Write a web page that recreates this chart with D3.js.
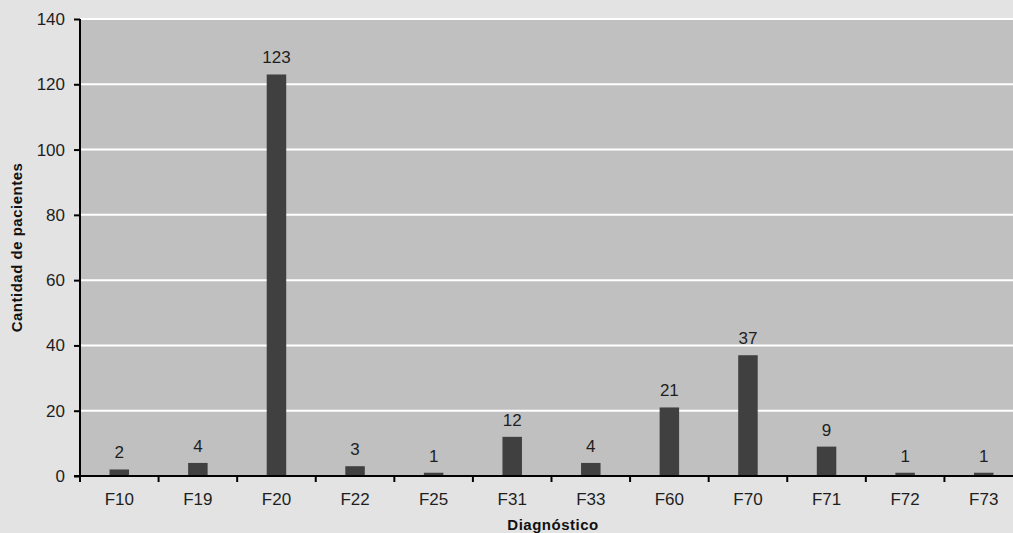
<!DOCTYPE html>
<html><head><meta charset="utf-8">
<script src="https://cdn.jsdelivr.net/npm/d3@7"></script>
<style>html,body{margin:0;padding:0;background:#e3e3e3;overflow:hidden}</style>
</head><body>
<svg id="c" width="1013" height="533"></svg>
<script>
const categories = ["F10","F19","F20","F22","F25","F31","F33","F60","F70","F71","F72","F73"];
const values = [2,4,123,3,1,12,4,21,37,9,1,1];
const yTicks = [0,20,40,60,80,100,120,140];
const yTitle = "Cantidad de pacientes";
const xTitle = "Diagnóstico";

(function () {
const svg = d3.select("#c");
const W = 1013, H = 533;
const pLeft = 80, pRight = 1023, pTop = 19, pBottom = 476;
const font = "'Liberation Sans', Arial, sans-serif";
const fs = 17;

svg.append("rect").attr("width", W).attr("height", H).attr("fill", "#e3e3e3");

const x = d3.scaleBand().domain(categories).range([pLeft, pRight]).paddingInner(0).paddingOuter(0);
const y = d3.scaleLinear().domain([0, 140]).range([pBottom, pTop]);

svg.append("rect").attr("x", pLeft).attr("y", pTop).attr("width", pRight - pLeft).attr("height", pBottom - pTop).attr("fill", "#c0c0c0");

svg.append("g").selectAll("line").data(yTicks.filter(d => d > 0)).join("line")
  .attr("x1", pLeft).attr("x2", pRight)
  .attr("y1", d => y(d)).attr("y2", d => y(d))
  .attr("stroke", "#ffffff").attr("stroke-width", 2);

const bw = 19.5;
svg.append("g").selectAll("rect").data(values).join("rect")
  .attr("x", (d, i) => x(categories[i]) + x.bandwidth() / 2 - bw / 2)
  .attr("y", d => y(d))
  .attr("width", bw)
  .attr("height", d => y(0) - y(d))
  .attr("fill", "#404040");

svg.append("g").selectAll("text").data(values).join("text")
  .attr("x", (d, i) => x(categories[i]) + x.bandwidth() / 2)
  .attr("y", d => y(d) - 11)
  .attr("text-anchor", "middle")
  .attr("font-family", font).attr("font-size", fs).attr("fill", "#1e1e1e")
  .text(d => d);

const yAxis = svg.append("g").attr("transform", `translate(${pLeft},0)`)
  .call(d3.axisLeft(y).tickValues(yTicks).tickSize(6).tickPadding(9));
yAxis.select(".domain").attr("stroke", "#000").attr("stroke-width", 2).attr("d", `M0,${pTop}V${pBottom}`);
yAxis.selectAll(".tick line").attr("stroke", "#000").attr("stroke-width", 2);
yAxis.selectAll(".tick text").attr("font-family", font).attr("font-size", fs).attr("fill", "#1e1e1e");

const xAxis = svg.append("g").attr("transform", `translate(0,${pBottom})`)
  .call(d3.axisBottom(x).tickSize(0).tickPadding(17));
xAxis.select(".domain").attr("stroke", "#000").attr("stroke-width", 2).attr("d", `M${pLeft - 6},0H${pRight}`);
xAxis.selectAll(".tick text").attr("font-family", font).attr("font-size", fs).attr("fill", "#1e1e1e");

svg.append("g").selectAll("line").data(d3.range(categories.length + 1)).join("line")
  .attr("x1", i => pLeft + i * x.bandwidth()).attr("x2", i => pLeft + i * x.bandwidth())
  .attr("y1", pBottom).attr("y2", pBottom + 6)
  .attr("stroke", "#000").attr("stroke-width", 2);

svg.append("text").attr("x", 553).attr("y", 530)
  .attr("text-anchor", "middle").attr("font-family", font).attr("font-weight", "bold")
  .attr("font-size", 15).attr("letter-spacing", 0.5).attr("fill", "#111").text(xTitle);

svg.append("text").attr("transform", `translate(22,${(pTop + pBottom) / 2}) rotate(-90)`)
  .attr("text-anchor", "middle").attr("font-family", font).attr("font-weight", "bold")
  .attr("font-size", 15).attr("letter-spacing", 0.5).attr("fill", "#111").text(yTitle);
})();
</script>
</body></html>
